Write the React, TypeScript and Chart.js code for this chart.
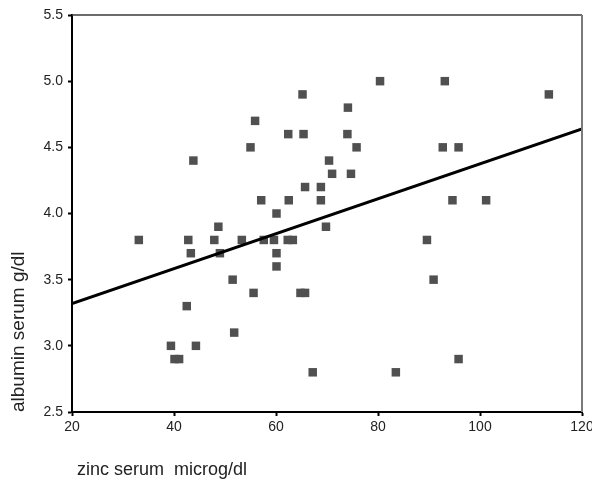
import React, { useEffect, useRef } from "react";
import { Chart, registerables } from "chart.js";

Chart.register(...registerables);

// zinc serum (microg/dl), albumin serum (g/dl)
const zincValues: number[] = [
  43.8, 55.9, 55.0, 65.2, 62.4, 65.4, 65.7, 68.8, 57.1, 62.5, 68.8, 60.1, 70.4, 71.0,
  80.4, 93.1, 113.5, 74.1, 74.0, 75.8, 92.7, 95.8, 74.7, 94.6, 101.2,
  33.1, 42.8, 43.3, 47.9, 48.7, 49.0, 53.3, 57.6, 59.6, 60.1, 60.1, 62.3, 63.3, 69.8,
  51.5, 55.6, 64.8, 65.7, 42.5, 51.8, 39.4, 44.3, 40.1, 41.0, 67.2,
  89.6, 90.9, 95.8, 83.5,
];
const albuminValues: number[] = [
  4.4, 4.7, 4.5, 4.9, 4.6, 4.6, 4.2, 4.2, 4.1, 4.1, 4.1, 4.0, 4.4, 4.3,
  5.0, 5.0, 4.9, 4.8, 4.6, 4.5, 4.5, 4.5, 4.3, 4.1, 4.1,
  3.8, 3.8, 3.7, 3.8, 3.9, 3.7, 3.8, 3.8, 3.8, 3.7, 3.6, 3.8, 3.8, 3.9,
  3.5, 3.4, 3.4, 3.4, 3.3, 3.1, 3.0, 3.0, 2.9, 2.9, 2.8,
  3.8, 3.5, 2.9, 2.8,
];
// fitted regression line end points
const fitX: number[] = [20, 120];
const fitY: number[] = [3.32, 4.64];

const xTitle = "zinc serum  microg/dl";
const yTitle = "albumin serum g/dl";

const FONT = "'Liberation Sans', Arial, sans-serif";

const frameBox = {
  id: "frameBox",
  afterDatasetsDraw(chart: any) {
    const { ctx, chartArea } = chart;
    const { left, right, top, bottom } = chartArea;
    ctx.save();
    ctx.strokeStyle = "#3a3a3a";
    ctx.lineWidth = 1.5;
    ctx.beginPath();
    ctx.moveTo(left, top);
    ctx.lineTo(right, top);
    ctx.stroke();
    ctx.strokeStyle = "#7a7a7a";
    ctx.lineWidth = 2;
    ctx.beginPath();
    ctx.moveTo(right, top);
    ctx.lineTo(right, bottom);
    ctx.stroke();
    ctx.restore();
  },
};

export default function App() {
  const ref = useRef<HTMLCanvasElement | null>(null);
  useEffect(() => {
    document.body.style.margin = "0";
    if (!ref.current) return;
    const points = zincValues.map((x, i) => ({ x, y: albuminValues[i] }));
    const fit = fitX.map((x, i) => ({ x, y: fitY[i] }));
    const chart = new Chart(ref.current, {
      type: "scatter",
      data: {
        datasets: [
          {
            type: "line",
            data: fit,
            borderColor: "#000",
            borderWidth: 3,
            pointRadius: 0,
            fill: false,
            order: 0,
          } as any,
          {
            data: points,
            pointStyle: "rect",
            pointRadius: 6,
            pointBackgroundColor: "#505050",
            pointBorderWidth: 0,
            borderWidth: 0,
            order: 1,
          } as any,
        ],
      },
      plugins: [frameBox],
      options: {
        animation: false,
        responsive: false,
        layout: { padding: { left: 0, right: 10, top: 15, bottom: 0 } },
        plugins: {
          legend: { display: false },
          tooltip: { enabled: false },
        },
        scales: {
          x: {
            type: "linear",
            min: 20,
            max: 120,
            afterFit: (s: any) => {
              s.height = 69;
              s.paddingLeft = 0;
              s.paddingRight = 0;
            },
            ticks: {
              stepSize: 20,
              color: "#222",
              font: { family: FONT, size: 14 },
              padding: 3,
              maxRotation: 0,
            },
            grid: {
              display: true,
              drawOnChartArea: false,
              drawTicks: true,
              tickLength: 4,
              tickWidth: 2,
              tickColor: "#000",
            },
            border: { display: true, color: "#000", width: 2 },
            title: {
              display: true,
              text: " " + xTitle,
              align: "start",
              color: "#222",
              font: { family: FONT, size: 18 },
              padding: { top: 0, bottom: 0 },
            },
          },
          y: {
            type: "linear",
            min: 2.5,
            max: 5.5,
            afterFit: (s: any) => {
              s.width = 72;
              s.paddingTop = 0;
              s.paddingBottom = 0;
            },
            ticks: {
              stepSize: 0.5,
              color: "#222",
              font: { family: FONT, size: 14 },
              padding: 5,
              callback: (v: any) => Number(v).toFixed(1),
            },
            grid: {
              display: true,
              drawOnChartArea: false,
              drawTicks: true,
              tickLength: 4,
              tickWidth: 2,
              tickColor: "#000",
            },
            border: { display: true, color: "#000", width: 2 },
            title: {
              display: true,
              text: yTitle,
              align: "start",
              color: "#222",
              font: { family: FONT, size: 19 },
              padding: { top: 7, bottom: 0 },
            },
          },
        },
      },
    });
    return () => chart.destroy();
  }, []);
  return (
    <div style={{ position: "absolute", left: 0, top: 0, width: 592, height: 481, background: "#fff" }}>
      <canvas ref={ref} width={592} height={481} />
    </div>
  );
}
